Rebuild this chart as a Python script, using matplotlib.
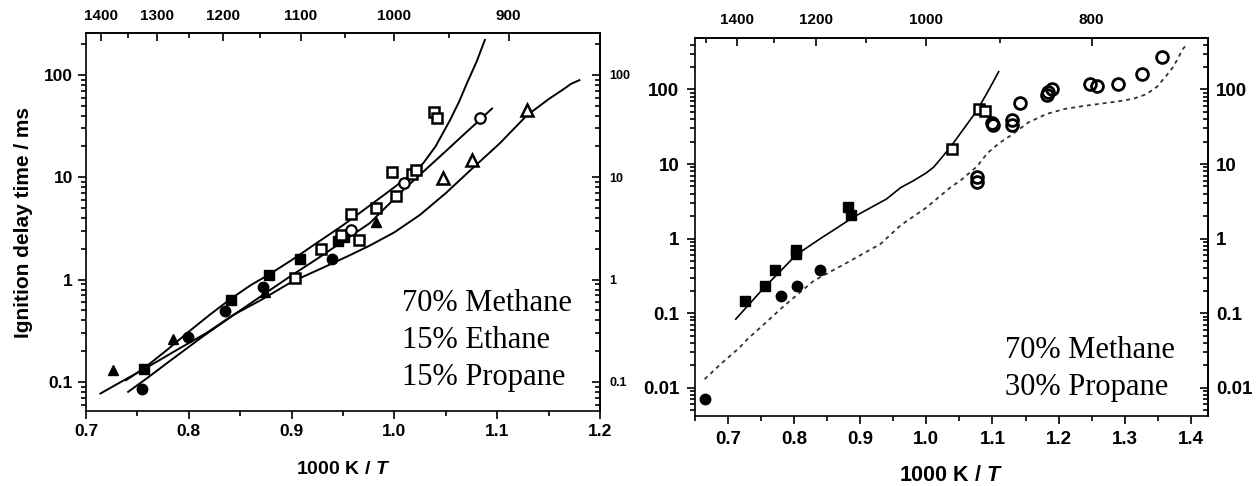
import numpy as np
import matplotlib
matplotlib.use('Agg')
import matplotlib.pyplot as plt
from matplotlib.ticker import FixedLocator, LogLocator, MultipleLocator, NullFormatter, FuncFormatter

# ---- left panel: 70% CH4 / 15% C2H6 / 15% C3H8 ----
l_sq_f_x = [0.756, 0.841, 0.878, 0.908, 0.945, 0.951]
l_sq_f_y = [0.135, 0.63, 1.1, 1.6, 2.4, 2.6]
l_sq_o_x = [0.903, 0.929, 0.948, 0.958, 0.966, 0.982, 0.998, 1.002, 1.017, 1.021, 1.039, 1.041]
l_sq_o_y = [1.03, 2.0, 2.7, 4.4, 2.44, 4.96, 11.3, 6.5, 10.8, 11.7, 43.7, 37.7]
l_ci_f_x = [0.754, 0.799, 0.835, 0.872, 0.939]
l_ci_f_y = [0.086, 0.275, 0.49, 0.85, 1.6]
l_ci_o_x = [0.958, 1.0095, 1.083]
l_ci_o_y = [3.05, 8.7, 37.7]
l_tr_f_x = [0.726, 0.785, 0.874, 0.982]
l_tr_f_y = [0.13, 0.265, 0.76, 3.67]
l_tr_o_x = [1.047, 1.075, 1.129]
l_tr_o_y = [9.75, 14.7, 45.0]

# model curves
l_m1_x = [0.739, 0.756, 0.78, 0.80, 0.82, 0.84, 0.86, 0.878, 0.90, 0.925, 0.95, 0.975,
          1.0, 1.015, 1.028, 1.04, 1.054, 1.063, 1.071, 1.08, 1.088]
l_m1_y = [0.104, 0.135, 0.21, 0.31, 0.45, 0.64, 0.88, 1.12, 1.55, 2.3, 3.4, 5.2,
          8.0, 10.5, 13.7, 20, 36, 55, 85, 135, 220]
l_m2_x = [0.741, 0.76, 0.78, 0.80, 0.814, 0.833, 0.85, 0.879, 0.90, 0.925, 0.95, 0.976,
          1.0085, 1.03, 1.05, 1.07, 1.083, 1.095]
l_m2_y = [0.080, 0.11, 0.156, 0.22, 0.28, 0.38, 0.50, 0.79, 1.1, 1.6, 2.37, 3.56,
          7.5, 11.8, 18, 27.6, 36.3, 47]
l_m3_x = [0.714, 0.73, 0.75, 0.77, 0.79, 0.817, 0.843, 0.87, 0.90, 0.93, 0.955, 0.976,
          1.0, 1.025, 1.05, 1.075, 1.1026, 1.1286, 1.15, 1.164, 1.172, 1.18]
l_m3_y = [0.077, 0.095, 0.123, 0.16, 0.21, 0.30, 0.45, 0.63, 0.95, 1.3, 1.7, 2.15,
          2.9, 4.3, 7.0, 12.0, 21.5, 40, 58, 72, 82, 89]

# ---- right panel: 70% CH4 / 30% C3H8 ----
r_sq_f_x = [0.726, 0.756, 0.771, 0.803, 0.803, 0.881, 0.886]
r_sq_f_y = [0.147, 0.229, 0.379, 0.705, 0.62, 2.64, 2.04]
r_ci_f_x = [0.665, 0.781, 0.805, 0.840]
r_ci_f_y = [0.0070, 0.171, 0.233, 0.379]
r_sq_o_x = [1.039, 1.080, 1.088]
r_sq_o_y = [16.1, 55.5, 51.5]
r_ci_o_x = [1.077, 1.077, 1.099, 1.101, 1.13, 1.13, 1.142, 1.182, 1.184, 1.19,
            1.248, 1.258, 1.29, 1.326, 1.356]
r_ci_o_y = [6.7, 5.7, 35.6, 33, 38.7, 33, 66, 84, 93, 100,
            120, 111, 118, 161, 270]

r_m1_x = [0.712, 0.735, 0.755, 0.78, 0.803, 0.82, 0.840, 0.865, 0.89, 0.915, 0.94, 0.961,
          0.981, 1.0, 1.0113, 1.024, 1.0365, 1.057, 1.0768, 1.094, 1.1094]
r_m1_y = [0.083, 0.14, 0.22, 0.37, 0.60, 0.76, 1.0, 1.39, 1.94, 2.57, 3.4, 4.8,
          6.0, 7.6, 9.1, 12.4, 16.9, 30, 52.5, 97, 173]
r_m2_x = [0.665, 0.69, 0.717, 0.73, 0.754, 0.785, 0.83, 0.883, 0.931, 0.961, 1.0, 1.037,
          1.0516, 1.0768, 1.0924, 1.11, 1.1272, 1.154, 1.182, 1.21, 1.2375, 1.289, 1.313,
          1.332, 1.3483, 1.362, 1.3733, 1.3884, 1.394]
r_m2_y = [0.013, 0.021, 0.034, 0.045, 0.07, 0.125, 0.272, 0.49, 0.85, 1.5, 2.6, 4.9,
          6.0, 9.3, 14, 19, 24, 36, 47, 55, 60, 69, 75,
          86, 108, 150, 201, 356, 400]

plt.rcParams['font.family'] = 'Liberation Sans'
plt.rcParams['font.weight'] = 'bold'
plt.rcParams['axes.labelweight'] = 'bold'
plt.rcParams['mathtext.fontset'] = 'custom'
plt.rcParams['mathtext.rm'] = 'Liberation Sans:bold'
plt.rcParams['mathtext.it'] = 'Liberation Sans:italic:bold'
plt.rcParams['axes.linewidth'] = 1.2


def inv(x):
    x = np.asarray(x, dtype=float)
    with np.errstate(divide='ignore'):
        return 1000.0 / x


def ident(y):
    return y


fmt = FuncFormatter(lambda v, p: '%g' % v)


def setup(ax, xlim, ylim, yticks, t_major, t_minor, lsize, rsize, tsize, rpad, tpad):
    ax.set_yscale('log')
    ax.set_xlim(*xlim)
    ax.set_ylim(*ylim)
    ax.xaxis.set_major_locator(MultipleLocator(0.1))
    ax.xaxis.set_minor_locator(MultipleLocator(0.05))
    ax.xaxis.set_major_formatter(FuncFormatter(lambda v, p: '%.1f' % v))
    ax.yaxis.set_major_locator(FixedLocator(yticks))
    ax.yaxis.set_major_formatter(fmt)
    ax.yaxis.set_minor_locator(LogLocator(base=10, subs=np.arange(2, 10), numticks=20))
    ax.yaxis.set_minor_formatter(NullFormatter())
    ax.tick_params(which='both', direction='out', top=False, right=False, width=1.2)
    ax.tick_params(which='major', length=6, labelsize=lsize, pad=3.5)
    ax.tick_params(which='minor', length=3.5)

    top = ax.secondary_xaxis('top', functions=(inv, inv))
    top.set_xticks(t_major)
    top.xaxis.set_minor_locator(FixedLocator(t_minor))
    top.xaxis.set_major_formatter(FuncFormatter(lambda v, p: '%d' % round(v)))
    top.tick_params(which='both', direction='in', width=1.2)
    top.tick_params(which='major', length=6, labelsize=tsize, pad=tpad)
    top.tick_params(which='minor', length=3.5)

    right = ax.secondary_yaxis('right', functions=(ident, ident))
    right.yaxis.set_major_locator(FixedLocator(yticks))
    right.yaxis.set_major_formatter(fmt)
    right.yaxis.set_minor_locator(LogLocator(base=10, subs=np.arange(2, 10), numticks=20))
    right.yaxis.set_minor_formatter(NullFormatter())
    right.tick_params(which='both', direction='in', width=1.2)
    right.tick_params(which='major', length=6, labelsize=rsize, pad=rpad)
    right.tick_params(which='minor', length=3.5)


fig = plt.figure(figsize=(12.57, 4.86), dpi=100)
ax1 = fig.add_axes([86 / 1257, 1 - 411 / 486, 514 / 1257, 378 / 486])
ax2 = fig.add_axes([694.7 / 1257, 1 - 416 / 486, 512.8 / 1257, 378 / 486])

lw = 1.4
# left panel
ax1.plot(l_m1_x, l_m1_y, color='black', lw=lw)
ax1.plot(l_m2_x, l_m2_y, color='black', lw=lw)
ax1.plot(l_m3_x, l_m3_y, color='black', lw=lw)
ms = 7.5
ax1.plot(l_sq_f_x, l_sq_f_y, 's', color='black', ms=ms)
ax1.plot(l_sq_o_x, l_sq_o_y, 's', mfc='white', mec='black', mew=1.8, ms=ms)
ax1.plot(l_ci_f_x, l_ci_f_y, 'o', color='black', ms=ms)
ax1.plot(l_ci_o_x, l_ci_o_y, 'o', mfc='white', mec='black', mew=1.6, ms=ms)
ax1.plot(l_tr_f_x, l_tr_f_y, '^', color='black', ms=ms)
ax1.plot(l_tr_o_x, l_tr_o_y, '^', mfc='white', mec='black', mew=1.8, ms=ms + 0.5)

setup(ax1, (0.7, 1.2), (0.052, 257), [0.1, 1, 10, 100],
      [1400, 1300, 1200, 1100, 1000, 900], [1350, 1250, 1150, 1050, 950],
      lsize=12.5, rsize=9, tsize=11, rpad=7, tpad=7)
ax1.set_xlabel('1000 K / $T$', fontsize=14, labelpad=16)
ax1.set_ylabel('Ignition delay time / ms', fontsize=15, labelpad=8)

for i, s in enumerate(['70% Methane', '15% Ethane', '15% Propane']):
    ax1.text(0.615, 0.2857 - i * 0.098, s, transform=ax1.transAxes, fontsize=22,
             family='Liberation Serif', weight='normal', va='center', ha='left')

# right panel
ax2.plot(r_m1_x, r_m1_y, color='black', lw=1.2)
ax2.plot(r_m2_x, r_m2_y, color='#333333', lw=1.3, ls=(0, (2.2, 2.2)))
ax2.plot(r_sq_f_x, r_sq_f_y, 's', color='black', ms=7)
ax2.plot(r_ci_f_x, r_ci_f_y, 'o', color='black', ms=7.5)
ax2.plot(r_sq_o_x, r_sq_o_y, 's', mfc='white', mec='black', mew=1.8, ms=7.5)
ax2.plot(r_ci_o_x, r_ci_o_y, 'o', mfc='none', mec='black', mew=2.0, ms=8.5)

setup(ax2, (0.65, 1.425), (0.00417, 490), [0.01, 0.1, 1, 10, 100],
      [1400, 1200, 1000, 800], [1500, 1300, 1100, 900],
      lsize=13.5, rsize=13.5, tsize=11, rpad=6, tpad=8)
ax2.tick_params(which='major', pad=5)
ax2.set_xlabel('1000 K / $T$', fontsize=15.5, labelpad=12)

for i, s in enumerate(['70% Methane', '30% Propane']):
    ax2.text(0.606, 0.1746 - i * 0.098, s, transform=ax2.transAxes, fontsize=22,
             family='Liberation Serif', weight='normal', va='center', ha='left')

fig.savefig('out.png', dpi=100)
